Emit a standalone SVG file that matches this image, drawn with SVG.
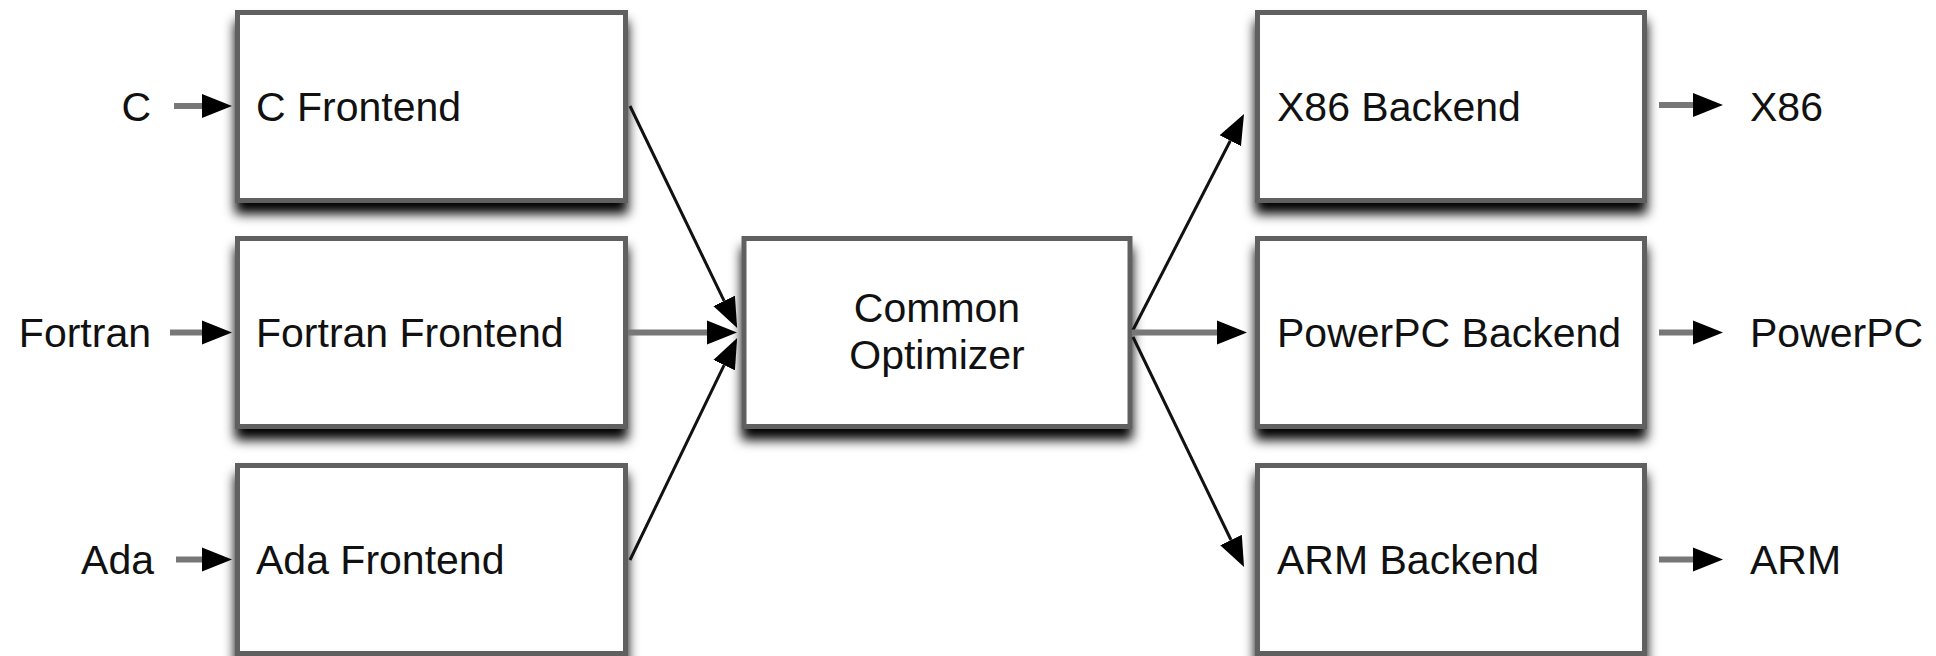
<svg xmlns="http://www.w3.org/2000/svg" width="1936" height="656" viewBox="0 0 1936 656">
  <defs>
    <filter id="shadow" x="-10%" y="-15%" width="120%" height="140%">
      <feGaussianBlur in="SourceAlpha" stdDeviation="6"/>
      <feOffset dx="0" dy="11" result="b"/>
      <feComponentTransfer><feFuncA type="linear" slope="1"/></feComponentTransfer>
      <feMerge><feMergeNode/><feMergeNode in="SourceGraphic"/></feMerge>
    </filter>
    <marker id="head" markerUnits="userSpaceOnUse" markerWidth="31" markerHeight="25" refX="0" refY="12" orient="auto" viewBox="0 0 31 24">
      <path d="M0,0 L30,12 L0,24 Z" fill="#000"/>
    </marker>
  </defs>
  <style>
    .box { fill: #fff; stroke: #606060; stroke-width: 5; }
    .lbl { font-family: "Liberation Sans", Arial, sans-serif; font-size: 41px; fill: #111; }
    .end { text-anchor: end; }
    .mid { text-anchor: middle; }
    .h { stroke: #777; stroke-width: 6; fill: none; marker-end: url(#head); }
    .d { stroke: #111; stroke-width: 3; fill: none; marker-end: url(#head); }
  </style>
  <rect width="1936" height="656" fill="#fff"/>

  <g id="c-frontend">
    <rect class="box" x="237.5" y="12.5" width="388" height="188" filter="url(#shadow)"/>
    <text class="lbl" x="256" y="120.5">C Frontend</text>
  </g>
  <g id="fortran-frontend">
    <rect class="box" x="237.5" y="238.5" width="388" height="188" filter="url(#shadow)"/>
    <text class="lbl" x="256" y="346.5">Fortran Frontend</text>
  </g>
  <g id="ada-frontend">
    <rect class="box" x="237.5" y="465.5" width="388" height="188" filter="url(#shadow)"/>
    <text class="lbl" x="256" y="573.5">Ada Frontend</text>
  </g>
  <g id="common-optimizer">
    <rect class="box" x="744" y="238.5" width="386" height="188" filter="url(#shadow)"/>
    <text class="lbl mid" x="937" y="322">Common</text>
    <text class="lbl mid" x="937" y="369">Optimizer</text>
  </g>
  <g id="x86-backend">
    <rect class="box" x="1257.5" y="12.5" width="387" height="188" filter="url(#shadow)"/>
    <text class="lbl" x="1277" y="120.5">X86 Backend</text>
  </g>
  <g id="powerpc-backend">
    <rect class="box" x="1257.5" y="238.5" width="387" height="188" filter="url(#shadow)"/>
    <text class="lbl" x="1277" y="346.5">PowerPC Backend</text>
  </g>
  <g id="arm-backend">
    <rect class="box" x="1257.5" y="465.5" width="387" height="188" filter="url(#shadow)"/>
    <text class="lbl" x="1277" y="573.5">ARM Backend</text>
  </g>

  <g id="inputs">
    <text class="lbl end" x="151" y="120.5">C</text>
    <text class="lbl end" x="151" y="346.5">Fortran</text>
    <text class="lbl end" x="154" y="573.5">Ada</text>
  </g>
  <g id="outputs">
    <text class="lbl" x="1750" y="120.5">X86</text>
    <text class="lbl" x="1750" y="346.5">PowerPC</text>
    <text class="lbl" x="1750" y="573.5">ARM</text>
  </g>

  <g id="connectors">
    <line class="h" x1="174" y1="106" x2="202" y2="106"/>
    <line class="h" x1="170" y1="332.5" x2="202" y2="332.5"/>
    <line class="h" x1="176" y1="559.5" x2="202" y2="559.5"/>
    <line class="d" x1="630" y1="106" x2="724.1" y2="300.9"/>
    <line class="h" x1="628" y1="332.5" x2="707" y2="332.5"/>
    <line class="d" x1="630" y1="560" x2="724.1" y2="365.1"/>
    <line class="d" x1="1133" y1="330" x2="1230.3" y2="140.7"/>
    <line class="h" x1="1133" y1="332.5" x2="1217" y2="332.5"/>
    <line class="d" x1="1133" y1="337" x2="1231" y2="540"/>
    <line class="h" x1="1659" y1="105" x2="1693" y2="105"/>
    <line class="h" x1="1659" y1="332.5" x2="1693" y2="332.5"/>
    <line class="h" x1="1659" y1="559.5" x2="1693" y2="559.5"/>
  </g>
</svg>
